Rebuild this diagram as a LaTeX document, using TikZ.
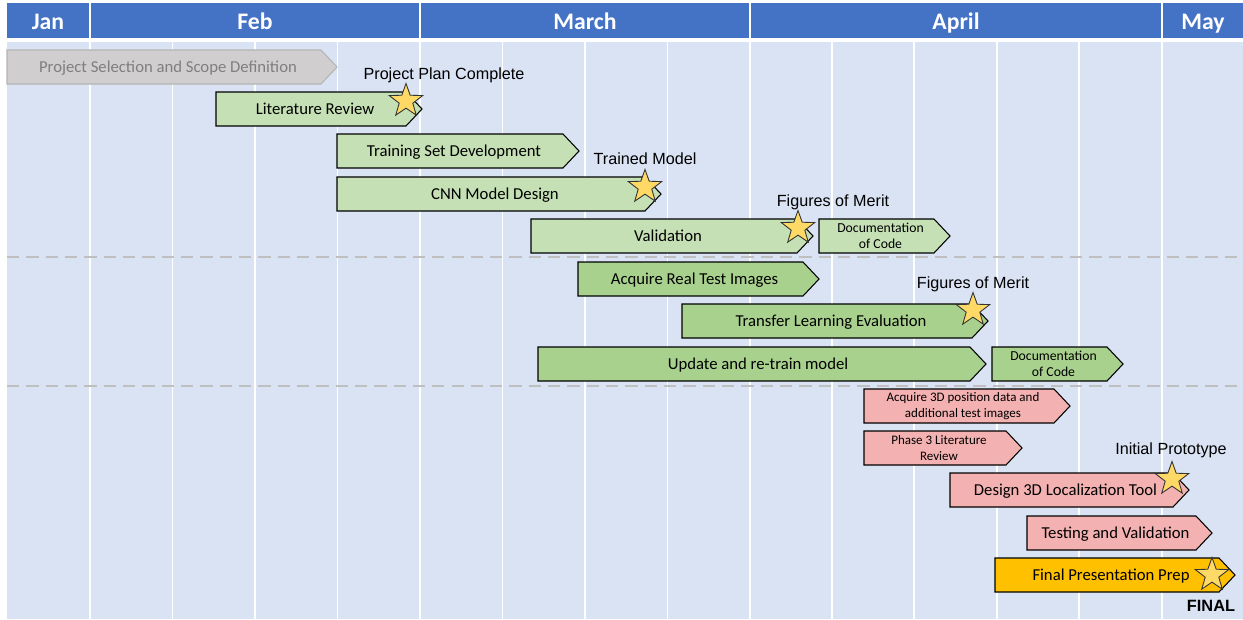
\documentclass[tikz,border=0pt]{standalone}
\usepackage{fontspec}
\setmainfont{Carlito}
\newfontfamily\arialf{Liberation Sans}
\usetikzlibrary{shapes.geometric}
\definecolor{hdrblue}{HTML}{4472C4}
\definecolor{bodyblue}{HTML}{DAE3F3}
\definecolor{lgreen}{HTML}{C5E0B4}
\definecolor{mgreen}{HTML}{A9D18E}
\definecolor{lpink}{HTML}{F4B1B1}
\definecolor{orng}{HTML}{FFC000}
\definecolor{gbarfill}{HTML}{D0CECE}
\definecolor{gbarline}{HTML}{B4B4B4}
\definecolor{gtext}{HTML}{7F7F7F}
\definecolor{staryel}{HTML}{FFD966}
\definecolor{dashgray}{HTML}{BFBFBF}
\tikzset{
  barline/.style={draw=black, line width=0.6pt, line join=miter},
  bartext/.style={font=\fontsize{9.5}{11}\selectfont, inner sep=0pt, align=center, text height=7.5pt, text depth=1pt},
  smalltext/.style={font=\fontsize{7.8}{9.3}\selectfont, inner sep=0pt, align=center},
  tinytext/.style={font=\fontsize{7.4}{9}\selectfont, inner sep=0pt, align=center},
  hdrtext/.style={font=\fontsize{13.5}{15}\selectfont\bfseries, text=white, inner sep=0pt, text height=11pt, text depth=1pt},
  msname/.style={font=\arialf\fontsize{9.2}{11}\selectfont, inner sep=0pt},
  mstar/.style={star, star points=5, star point ratio=2.45, minimum size=0.7cm, inner sep=0pt, fill=staryel, draw=black!80, line width=0.5pt},
}
% #1 left x, #2 tip x, #3 top y, #4 fill style, #5 text style, #6 name, #7 text
\newcommand\gbar[7]{%
  \draw[#4] (#1,#3) -- (#2-16,#3) -- (#2,#3+17) -- (#2-16,#3+34) -- (#1,#3+34) -- cycle;
  \node[#5] (#6) at ({(#1+#2)/2-4},#3+17) {#7};}
\begin{document}
\begin{tikzpicture}[x=0.02cm, y=-0.02cm]
\useasboundingbox (0,0) rectangle (1243,619);
\fill[white] (0,0) rectangle (1243,619);
% body
\fill[bodyblue] (7,42) rectangle (1243,619);
\foreach \xx in {90,172.5,255,337.5,420,502.5,585,667.5,750,832,914,997,1079,1162}
  \draw[white, line width=1pt] (\xx,42) -- (\xx,619);
% header
\fill[hdrblue] (7,3) rectangle (89,38);
\fill[hdrblue] (91,3) rectangle (419,38);
\fill[hdrblue] (421,3) rectangle (749,38);
\fill[hdrblue] (751,3) rectangle (1161,38);
\fill[hdrblue] (1163,3) rectangle (1243,38);
\node[hdrtext] (mjan) at (48,21) {Jan};
\node[hdrtext] (mfeb) at (255,21) {Feb};
\node[hdrtext] (mmar) at (585,21) {March};
\node[hdrtext] (mapr) at (956,21) {April};
\node[hdrtext] (mmay) at (1203,21) {May};
% dashed separators
\draw[dashgray, line width=1.3pt, dash pattern=on 7pt off 4pt] (7,257) -- (1243,257);
\draw[dashgray, line width=1.3pt, dash pattern=on 7pt off 4pt] (7,386) -- (1243,386);
% bars
\gbar{7}{337}{50}{fill=gbarfill, draw=gbarline, line width=0.6pt}{bartext, text=gtext}{bproj}{Project Selection and Scope Definition}
\gbar{216}{422}{92}{barline, fill=lgreen}{bartext}{blit}{Literature Review}
\gbar{337}{579}{134}{barline, fill=lgreen}{bartext}{btrain}{Training Set Development}
\gbar{337}{661}{177}{barline, fill=lgreen}{bartext}{bcnn}{CNN Model Design}
\gbar{531}{813}{219}{barline, fill=lgreen}{bartext}{bval}{Validation}
\gbar{819}{950}{219}{barline, fill=lgreen}{smalltext}{bdoca}{Documentation\\of Code}
\gbar{578}{819}{262}{barline, fill=mgreen}{bartext}{bacq}{Acquire Real Test Images}
\gbar{682}{988}{304}{barline, fill=mgreen}{bartext}{btl}{Transfer Learning Evaluation}
\gbar{538}{986}{347}{barline, fill=mgreen}{bartext}{bupd}{Update and re-train model}
\gbar{992}{1123}{347}{barline, fill=mgreen}{smalltext}{bdocb}{Documentation\\of Code}
\gbar{864}{1070}{389}{barline, fill=lpink}{tinytext}{bacq3}{Acquire 3D position data and\\additional test images}
\gbar{864}{1022}{431}{barline, fill=lpink}{tinytext}{bph3}{Phase 3 Literature\\Review}
\gbar{950}{1189}{473}{barline, fill=lpink}{bartext}{bdes}{Design 3D Localization Tool}
\gbar{1027}{1212}{516}{barline, fill=lpink}{bartext}{btest}{Testing and Validation}
\gbar{995}{1235}{558}{barline, fill=orng}{bartext}{bfin}{Final Presentation Prep}
% milestones
\node[mstar] (s1) at (406,101) {};
\node[mstar] (s2) at (645,187) {};
\node[mstar] (s3) at (798,228) {};
\node[mstar] (s4) at (973,310) {};
\node[mstar] (s5) at (1172,479) {};
\node[mstar] (s6) at (1212,575) {};
\node[msname] (l1) at (444,75) {Project Plan Complete};
\node[msname] (l2) at (645,159) {Trained Model};
\node[msname] (l3) at (833,202) {Figures of Merit};
\node[msname] (l4) at (973,284) {Figures of Merit};
\node[msname] (l5) at (1171,450) {Initial Prototype};
\node[msname, font=\arialf\fontsize{9.3}{11}\selectfont\bfseries] (l6) at (1211,606) {FINAL};
\end{tikzpicture}
\end{document}
